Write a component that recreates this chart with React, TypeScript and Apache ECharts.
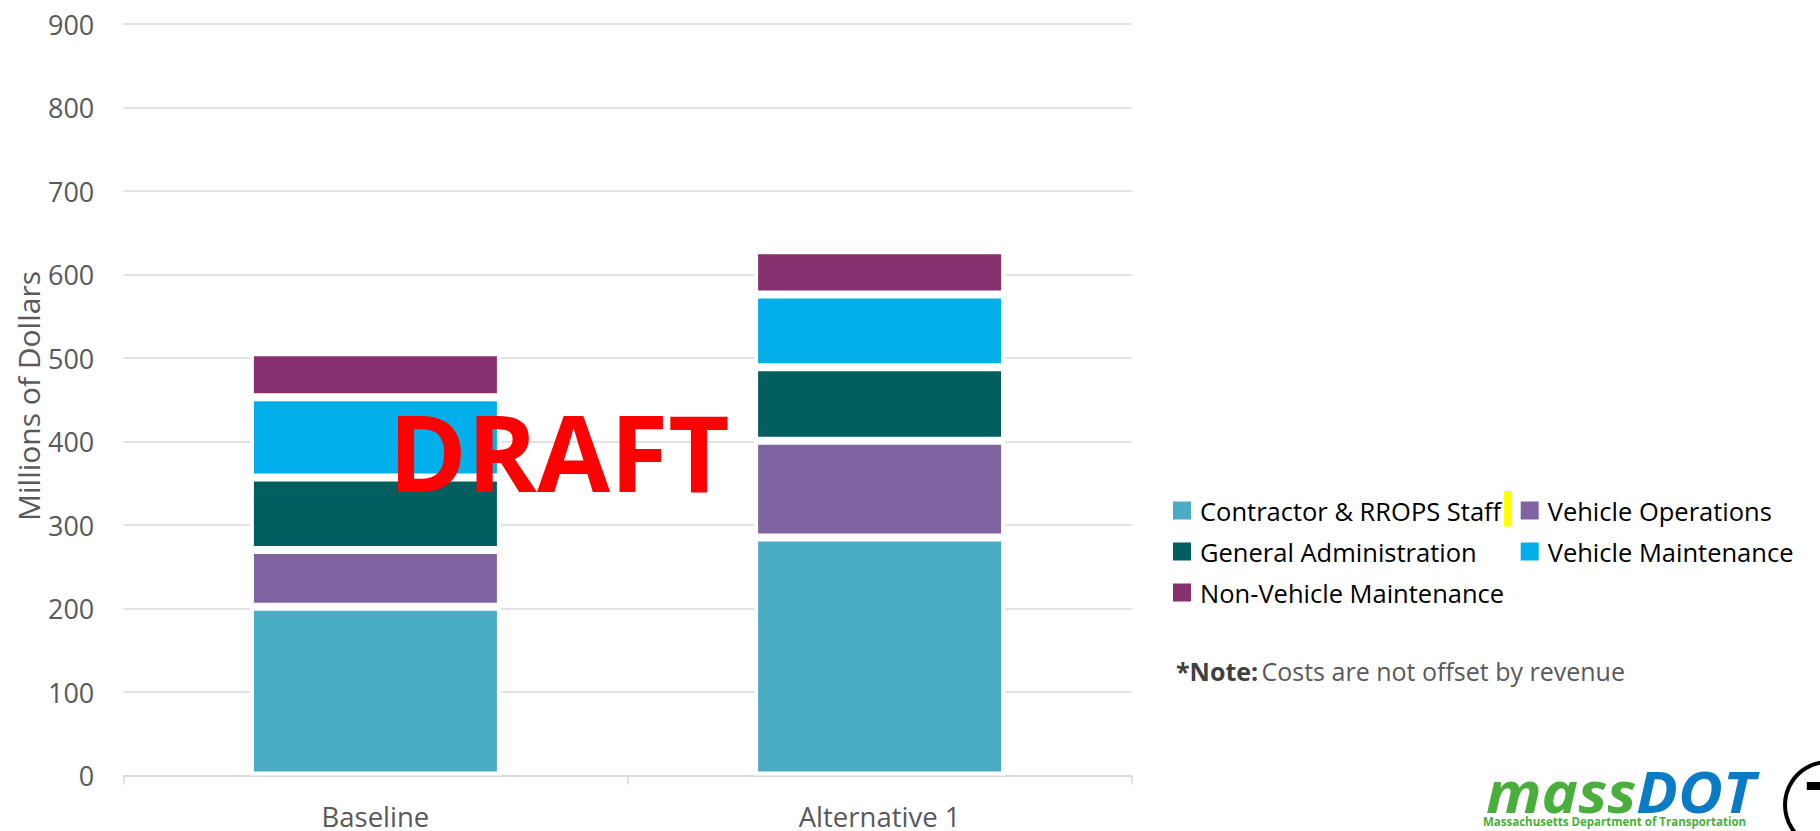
import React, { useEffect, useRef } from "react";
import * as echarts from "echarts";

const categories = ["Baseline", "Alternative 1"];
const seriesNames = [
  "Contractor & RROPS Staff",
  "Vehicle Operations",
  "General Administration",
  "Vehicle Maintenance",
  "Non-Vehicle Maintenance",
];
const contractorStaff = [202, 285];
const vehicleOperations = [68, 116];
const generalAdministration = [87, 88];
const vehicleMaintenance = [96, 87];
const nonVehicleMaintenance = [54, 53];
const yTicks = { min: 0, max: 900, interval: 100 };

const colors = ["#4BACC6", "#8064A2", "#01605F", "#03AFEB", "#87306F"];
const FONT = "'Open Sans', 'Noto Sans', sans-serif";

export default function App() {
  const ref = useRef<HTMLDivElement>(null);
  useEffect(() => {
    if (!ref.current) return;
    const chart = echarts.init(ref.current, undefined, { renderer: "svg" });
    const values = [
      contractorStaff,
      vehicleOperations,
      generalAdministration,
      vehicleMaintenance,
      nonVehicleMaintenance,
    ];
    const legendText = {
      fontFamily: FONT,
      fontSize: 25.5,
      color: "#000",
      padding: [0, 0, 0, 4],
    };
    const legendBase = {
      top: 497.5,
      padding: 0,
      orient: "vertical",
      itemWidth: 18,
      itemHeight: 18,
      itemGap: 15,
      icon: "rect",
      itemStyle: { borderWidth: 0 },
      textStyle: legendText,
    };
    chart.setOption({
      animation: false,
      backgroundColor: "#fff",
      textStyle: { fontFamily: FONT },
      grid: { left: 123.3, top: 24, width: 1008.4, height: 751.5, containLabel: false },
      legend: [
        { ...legendBase, left: 1173, data: [seriesNames[0], seriesNames[2], seriesNames[4]] },
        { ...legendBase, left: 1520.7, data: [seriesNames[1], seriesNames[3]] },
      ],
      xAxis: {
        type: "category",
        data: categories,
        axisLine: { show: true, lineStyle: { color: "#d9d9d9", width: 1.5 } },
        axisTick: { show: true, length: 9, interval: 0, lineStyle: { color: "#d9d9d9", width: 1.5 } },
        axisLabel: { color: "#595959", fontSize: 27.5, lineHeight: 26, fontFamily: FONT, margin: 28 },
      },
      yAxis: {
        type: "value",
        min: yTicks.min,
        max: yTicks.max,
        interval: yTicks.interval,
        axisLine: { show: false },
        axisTick: { show: false },
        axisLabel: { color: "#595959", fontSize: 27, fontFamily: FONT, margin: 29 },
        splitLine: { lineStyle: { color: "#d9d9d9", width: 1.5 } },
      },
      series: seriesNames.map((name, i) => ({
        name,
        type: "bar",
        stack: "total",
        barWidth: 251,
        data: values[i],
        itemStyle: { color: colors[i], borderColor: "#fff", borderWidth: 4 },
      })),
      graphic: [
        {
          type: "text",
          x: 28,
          y: 396,
          rotation: Math.PI / 2,
          style: {
            text: "Millions of Dollars",
            fontFamily: FONT,
            fontSize: 30,
            fill: "#595959",
            align: "center",
            verticalAlign: "middle",
          },
        },
        {
          type: "text",
          x: 559,
          y: 451,
          z: 100,
          style: {
            text: "DRAFT",
            fontFamily: FONT,
            fontWeight: "bold",
            fontSize: 106,
            fill: "#FF0000",
            align: "center",
            verticalAlign: "middle",
          },
        },
        {
          type: "rect",
          shape: { x: 1504, y: 491, width: 7.7, height: 35.7 },
          style: { fill: "#FFFF00" },
          z: 100,
        },
        {
          type: "text",
          x: 1176,
          y: 671,
          style: {
            text: "{b|*Note:} {n|Costs are not offset by revenue}",
            verticalAlign: "middle",
            rich: {
              b: { fontFamily: FONT, fontSize: 25, fontWeight: "bold", fill: "#404040" },
              n: { fontFamily: FONT, fontSize: 25, fill: "#595959" },
            },
          },
        },
        {
          type: "text",
          x: 1486,
          y: 791,
          scaleX: 1.06,
          style: {
            text: "{a|mass}{b|DOT}",
            verticalAlign: "middle",
            rich: {
              a: { fontFamily: FONT, fontSize: 58, lineHeight: 42, fontWeight: "bold", fontStyle: "italic", fill: "#4AAE3C" },
              b: { fontFamily: FONT, fontSize: 58, lineHeight: 42, fontWeight: "bold", fontStyle: "italic", fill: "#0A7BC4" },
            },
          },
        },
        {
          type: "text",
          x: 1483,
          y: 821,
          style: {
            text: "Massachusetts Department of Transportation",
            fontFamily: FONT,
            fontSize: 11.5,
            lineHeight: 11,
            fontWeight: "bold",
            fill: "#4AAE3C",
            verticalAlign: "middle",
          },
        },
        {
          type: "circle",
          shape: { cx: 1828, cy: 805, r: 43 },
          style: { fill: "#fff", stroke: "#000", lineWidth: 4 },
        },
        {
          type: "text",
          x: 1828,
          y: 807,
          style: {
            text: "T",
            fontFamily: "'Liberation Sans', Arial, sans-serif",
            fontWeight: "bold",
            fontSize: 72,
            fill: "#000",
            align: "center",
            verticalAlign: "middle",
          },
        },
      ],
    });
    return () => chart.dispose();
  }, []);
  return (
    <div
      ref={ref}
      style={{ position: "fixed", left: 0, top: 0, width: 1820, height: 831 }}
    />
  );
}
